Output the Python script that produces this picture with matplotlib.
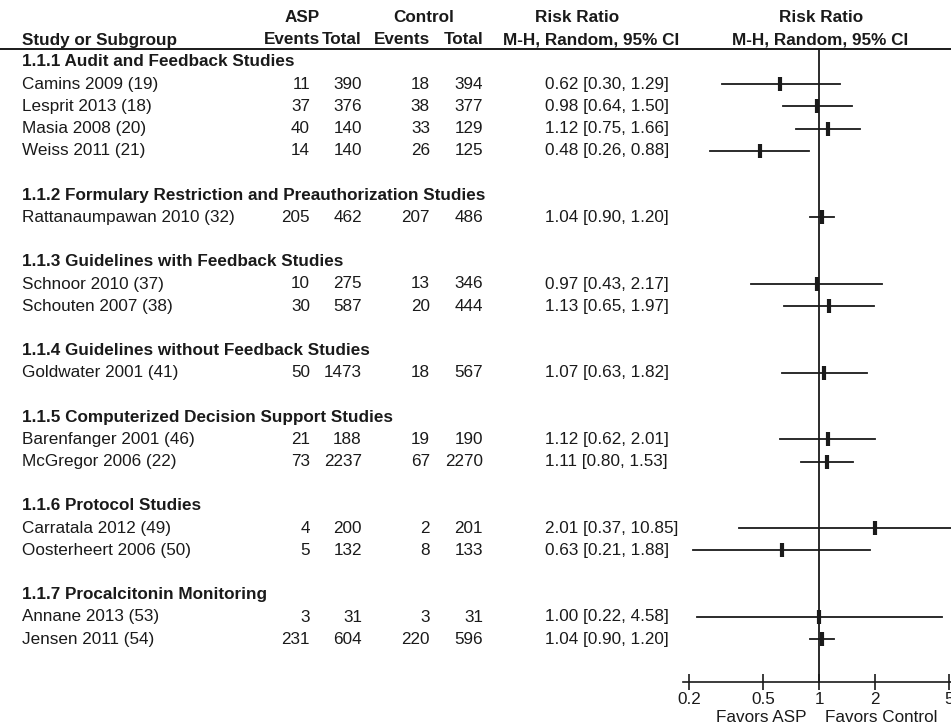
import numpy as np
import matplotlib
matplotlib.use("Agg")
import matplotlib.pyplot as plt

plt.rcParams['font.family'] = ['Liberation Sans', 'DejaVu Sans']

groups = ["1.1.1 Audit and Feedback Studies",
          "1.1.2 Formulary Restriction and Preauthorization Studies",
          "1.1.3 Guidelines with Feedback Studies",
          "1.1.4 Guidelines without Feedback Studies",
          "1.1.5 Computerized Decision Support Studies",
          "1.1.6 Protocol Studies",
          "1.1.7 Procalcitonin Monitoring"]
group_sizes = [4, 1, 2, 1, 2, 2, 2]

studies = ["Camins 2009 (19)", "Lesprit 2013 (18)", "Masia 2008 (20)", "Weiss 2011 (21)",
           "Rattanaumpawan 2010 (32)",
           "Schnoor 2010 (37)", "Schouten 2007 (38)",
           "Goldwater 2001 (41)",
           "Barenfanger 2001 (46)", "McGregor 2006 (22)",
           "Carratala 2012 (49)", "Oosterheert 2006 (50)",
           "Annane 2013 (53)", "Jensen 2011 (54)"]
asp_events = [11, 37, 40, 14, 205, 10, 30, 50, 21, 73, 4, 5, 3, 231]
asp_total = [390, 376, 140, 140, 462, 275, 587, 1473, 188, 2237, 200, 132, 31, 604]
ctl_events = [18, 38, 33, 26, 207, 13, 20, 18, 19, 67, 2, 8, 3, 220]
ctl_total = [394, 377, 129, 125, 486, 346, 444, 567, 190, 2270, 201, 133, 31, 596]
rr = [0.62, 0.98, 1.12, 0.48, 1.04, 0.97, 1.13, 1.07, 1.12, 1.11, 2.01, 0.63, 1.00, 1.04]
lo = [0.30, 0.64, 0.75, 0.26, 0.90, 0.43, 0.65, 0.63, 0.62, 0.80, 0.37, 0.21, 0.22, 0.90]
hi = [1.29, 1.50, 1.66, 0.88, 1.20, 2.17, 1.97, 1.82, 2.01, 1.53, 10.85, 1.88, 4.58, 1.20]
ticks = [0.2, 0.5, 1, 2, 5]
tick_labels = ["0.2", "0.5", "1", "2", "5"]

W, H = 951, 726
fs = 12.3
col = '#1a1a1a'

fig = plt.figure(figsize=(W / 100, H / 100), dpi=100)
ax = fig.add_axes([0, 0, 1, 1])
ax.set_xlim(0, W)
ax.set_ylim(H, 0)
ax.axis('off')

# header
hdr = dict(fontsize=fs, fontweight='bold', color=col, va='center')
ax.text(302, 17, "ASP", ha='center', **hdr)
ax.text(424, 17, "Control", ha='center', **hdr)
ax.text(577, 17, "Risk Ratio", ha='center', **hdr)
ax.text(821, 17, "Risk Ratio", ha='center', **hdr)
ax.text(22, 40, "Study or Subgroup", ha='left', **hdr)
ax.text(320, 40, "Events", ha='right', **hdr)
ax.text(362, 40, "Total", ha='right', **hdr)
ax.text(430, 40, "Events", ha='right', **hdr)
ax.text(483, 40, "Total", ha='right', **hdr)
ax.text(591, 40, "M-H, Random, 95% CI", ha='center', **hdr)
ax.text(820, 40, "M-H, Random, 95% CI", ha='center', **hdr)
ax.plot([0, W], [49, 49], color=col, lw=1.4)

# rows
y0, dy = 62, 22.2
row = 0
ys = []
i = 0
for g, n in zip(groups, group_sizes):
    ax.text(22, y0 + row * dy, g, ha='left', **hdr)
    row += 1
    for _ in range(n):
        ys.append(y0 + row * dy)
        row += 1
    row += 1

txt = dict(fontsize=fs, color=col, va='center')
for k, y in enumerate(ys):
    ax.text(22, y, studies[k], ha='left', **txt)
    ax.text(310, y, str(asp_events[k]), ha='right', **txt)
    ax.text(362, y, str(asp_total[k]), ha='right', **txt)
    ax.text(430, y, str(ctl_events[k]), ha='right', **txt)
    ax.text(483, y, str(ctl_total[k]), ha='right', **txt)
    ax.text(545, y, "%.2f [%.2f, %.2f]" % (rr[k], lo[k], hi[k]), ha='left', **txt)

# forest panel
px_dec = 186.0
x1 = 819.0
left = 683.0
ax2 = fig.add_axes([left / W, 0, (W - left) / W, 1])
ax2.patch.set_alpha(0)
ax2.set_xscale('log')
ax2.set_xlim(10 ** ((left - x1) / px_dec), 10 ** ((W - x1) / px_dec))
ax2.set_ylim(H, 0)
for s in ['top', 'left', 'right']:
    ax2.spines[s].set_visible(False)
ax2.spines['bottom'].set_position(('data', 682))
ax2.spines['bottom'].set_linewidth(1.2)
ax2.spines['bottom'].set_color(col)
ax2.set_yticks([])
ax2.set_xticks(ticks)
ax2.set_xticklabels(tick_labels)
ax2.xaxis.set_minor_locator(matplotlib.ticker.NullLocator())
ax2.tick_params(axis='x', direction='inout', length=11, width=1.2, color=col,
                labelsize=fs, labelcolor=col, pad=2)

ax2.plot([1, 1], [49, 682], color=col, lw=1.3)
for k, y in enumerate(ys):
    ax2.plot([lo[k], hi[k]], [y, y], color=col, lw=1.3)
    ax2.plot([rr[k]], [y], marker='|', markersize=10, mew=3, color=col)

ax.text(761, 717, "Favors ASP", ha='center', fontsize=fs, color=col, va='center')
ax.text(881, 717, "Favors Control", ha='center', fontsize=fs, color=col, va='center')

fig.savefig("out.png", dpi=100)
